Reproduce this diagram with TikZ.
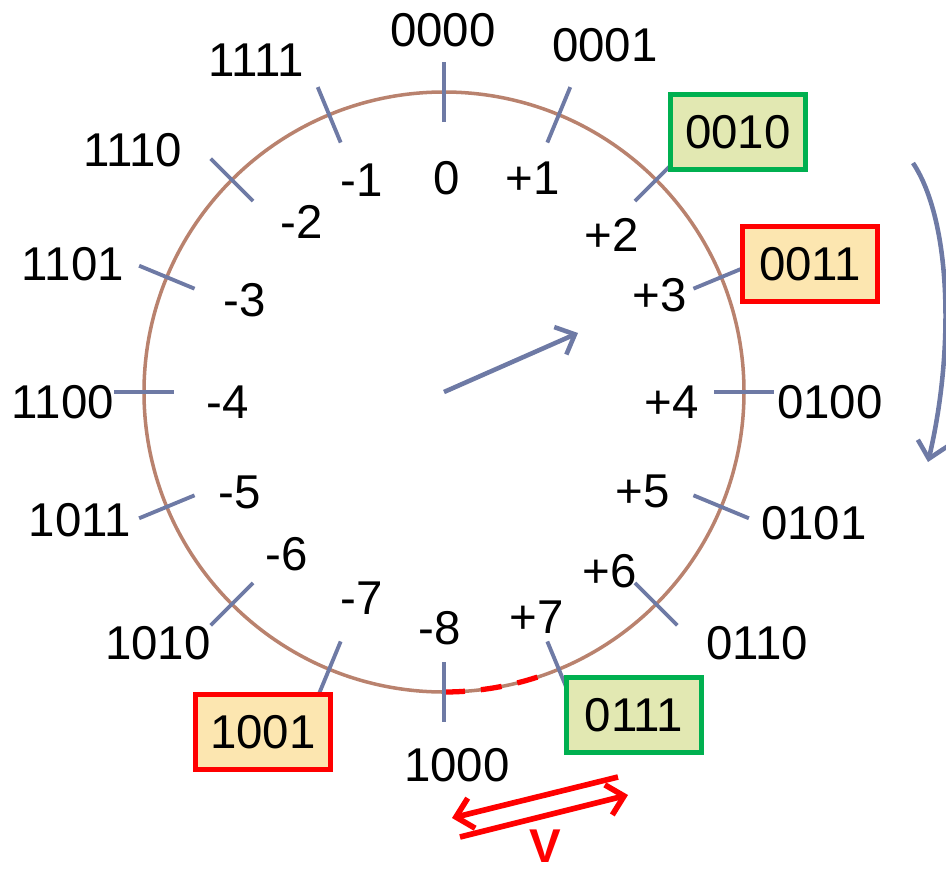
\documentclass[tikz,border=0pt]{standalone}
\usepackage{fontspec}
\setmainfont{Liberation Sans}
\usepackage{xcolor}
\usepackage{tikz}
\usetikzlibrary{arrows.meta, positioning}

\definecolor{ringbrown}{RGB}{185,130,110}
\definecolor{tickblue}{RGB}{110,122,165}
\definecolor{boxgreen}{RGB}{0,176,80}
\definecolor{fillgreen}{RGB}{226,232,178}
\definecolor{fillorange}{RGB}{252,230,176}

\tikzset{
  lbl/.style={font=\fontsize{27}{32}\selectfont, inner sep=0pt},
  okbox/.style={lbl, draw=boxgreen, fill=fillgreen, line width=3pt, minimum width=2.7cm, minimum height=1.5cm},
  badbox/.style={lbl, draw=red, fill=fillorange, line width=3pt, minimum width=2.7cm, minimum height=1.5cm},
  tickline/.style={draw=tickblue, line width=2.2pt},
  bluearrow/.style={draw=tickblue, line width=2.6pt, -{Straight Barb[length=0.32cm, width=0.6cm]}},
  redarrow/.style={draw=red, line width=3.2pt, -{Straight Barb[length=0.32cm, width=0.62cm]}}
}

\begin{document}
\begin{tikzpicture}[x=0.02cm, y=0.02cm]
    \useasboundingbox (-444,-481) rectangle (502,392);
    \coordinate (c) at (0,0);

    % Ring and overflow gap
    \draw[ringbrown, line width=2pt] (c) circle[radius=300];
    \draw[red, line width=3pt, dash pattern=on 0.42cm off 0.32cm] (-90:300) arc[start angle=-90, end angle=-69, radius=300];

    % Ticks
    \foreach \k in {0,...,15}
        \draw[tickline] (90-22.5*\k:270) -- (90-22.5*\k:330);

    % Signed values
    \node[lbl] (d0)  at (3,214)     {0};
    \node[lbl] (dp1) at (89,214)    {+1};
    \node[lbl] (dp2) at (168,157)   {+2};
    \node[lbl] (dp3) at (216,97)    {+3};
    \node[lbl] (dp4) at (228,-10)   {+4};
    \node[lbl] (dp5) at (199,-99)   {+5};
    \node[lbl] (dp6) at (166,-179)  {+6};
    \node[lbl] (dp7) at (93,-225)   {+7};
    \node[lbl] (dm8) at (-4,-236)   {-8};
    \node[lbl] (dm7) at (-82,-206)  {-7};
    \node[lbl] (dm6) at (-157,-162) {-6};
    \node[lbl] (dm5) at (-204,-100) {-5};
    \node[lbl] (dm4) at (-216,-10)  {-4};
    \node[lbl] (dm3) at (-199,92)   {-3};
    \node[lbl] (dm2) at (-142,170)  {-2};
    \node[lbl] (dm1) at (-82,212)   {-1};

    % Bit patterns
    \node[lbl]    (b0000) at (-1,362)    {0000};
    \node[lbl]    (b0001) at (161,347)   {0001};
    \node[okbox]  (b0010) at (294,260)   {0010};
    \node[badbox] (b0011) at (366,128)   {0011};
    \node[lbl]    (b0100) at (386,-10)   {0100};
    \node[lbl]    (b0101) at (370,-131)  {0101};
    \node[lbl]    (b0110) at (313,-251)  {0110};
    \node[okbox]  (b0111) at (190,-323)  {0111};
    \node[lbl]    (b1000) at (13,-373)   {1000};
    \node[badbox] (b1001) at (-181,-340) {1001};
    \node[lbl]    (b1010) at (-286,-251) {1010};
    \node[lbl]    (b1011) at (-364,-128) {1011};
    \node[lbl]    (b1100) at (-381,-10)  {1100};
    \node[lbl]    (b1101) at (-371,128)  {1101};
    \node[lbl]    (b1110) at (-311,242)  {1110};
    \node[lbl]    (b1111) at (-188,332)  {1111};

    % Pointer and direction of counting
    \coordinate (ptr) at (134,59);
    \draw[bluearrow] (c) -- (ptr);
    \coordinate (cw1) at (469,229);
    \coordinate (cw2) at (484,-70);
    \draw[bluearrow] (cw1) .. controls (508,170) and (510,40) .. (cw2);

    % Overflow
    \coordinate (ov1) at (174,-385);
    \coordinate (ov2) at (8,-426);
    \coordinate (ov3) at (16,-445);
    \coordinate (ov4) at (184,-403);
    \draw[redarrow] (ov1) -- (ov2);
    \draw[redarrow] (ov3) -- (ov4);
    \node[lbl, red, font=\fontsize{27}{32}\selectfont\bfseries] (vlbl) at (101,-454) {V};
\end{tikzpicture}
\end{document}
